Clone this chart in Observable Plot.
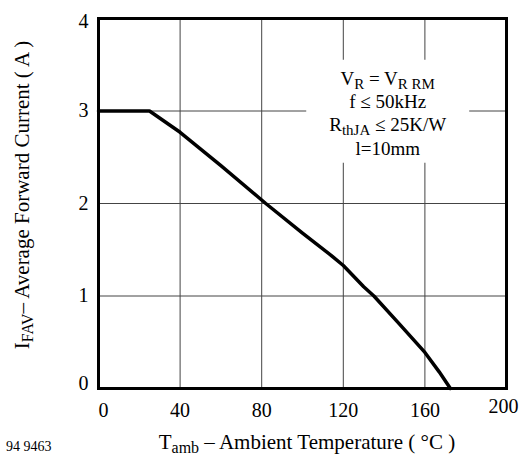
<!DOCTYPE html>
<html>
<head>
<meta charset="utf-8">
<script src="https://cdn.jsdelivr.net/npm/d3@7"></script>
<script src="https://cdn.jsdelivr.net/npm/@observablehq/plot@0.6"></script>
<style>
  html, body { margin: 0; padding: 0; background: white; overflow: hidden; }
  svg text { font-family: "Liberation Serif", "Times New Roman", serif !important; }
</style>
</head>
<body>
<script>
// Data
const temps    = [0, 25, 40, 60, 82, 100, 114, 120, 130, 135, 147, 160, 167, 172.5];
const currents = [3, 3, 2.77, 2.41, 2, 1.68, 1.44, 1.33, 1.1, 1.0, 0.71, 0.39, 0.18, 0];
const xTicks = [0, 40, 80, 120, 160, 200];
const yTicks = [0, 1, 2, 3, 4];
const noteAt = [142, 2.9];

const data = temps.map((t, i) => ({t, i: currents[i]}));

const plot = Plot.plot({
  width: 522,
  height: 456,
  marginLeft: 98,
  marginRight: 16,
  marginTop: 18,
  marginBottom: 68,
  x: {domain: [0, 200]},
  y: {domain: [0, 4]},
  style: {fontSize: "20px", color: "black", background: "white"},
  marks: [
    Plot.gridX({ticks: xTicks, stroke: "#444", strokeOpacity: 1, strokeWidth: 1}),
    Plot.gridY({ticks: yTicks, stroke: "#444", strokeOpacity: 1, strokeWidth: 1}),
    Plot.line(data, {x: "t", y: "i", stroke: "black", strokeWidth: 3.5}),
    Plot.frame({stroke: "black", strokeWidth: 3}),
    Plot.axisX({ticks: xTicks, tickSize: 0, tickPadding: 14, label: null, fontSize: 20, tickFormat: d => String(d)}),
    Plot.axisY({ticks: yTicks, tickSize: 0, tickPadding: 10, label: null, fontSize: 20, tickFormat: d => String(d)})
  ]
});
document.body.appendChild(plot);

const svg = d3.select(plot);
const sx = plot.scale("x"), sy = plot.scale("y");

// nudge end tick labels as in the reference (relative to Plot's own placement)
function nudge(node, dx, dy) {
  const s = d3.select(node);
  const tr = s.attr("transform") || "";
  s.attr("transform", (tr + ` translate(${dx},${dy})`).trim());
}
const xl = svg.selectAll('g[aria-label="x-axis tick label"] text').nodes();
if (xl.length) {
  nudge(xl[0], 5, 0);
  nudge(xl[xl.length - 1], -3, -4);
}
const yl = svg.selectAll('g[aria-label="y-axis tick label"] text').nodes();
if (yl.length) {
  nudge(yl[0], 0, -5);
  nudge(yl[yl.length - 1], 0, 3);
}

function addRuns(textSel, runs, subSize) {
  let shifted = false;
  runs.forEach(([s, sub]) => {
    const ts = textSel.append("tspan").text(s);
    if (sub) {
      ts.attr("font-size", subSize);
      if (!shifted) { ts.attr("dy", 4); shifted = true; }
    } else if (shifted) { ts.attr("dy", -4); shifted = false; }
  });
}

// Annotation block
const cx = sx.apply(noteAt[0]), cy = sy.apply(noteAt[1]);
const noteLines = [
  [["V"], ["R", true], [" = V"], ["R RM", true]],
  [["f ≤ 50kHz"]],
  [["R"], ["thJA", true], [" ≤ 25K/W"]],
  [["l=10mm"]]
];
const g = svg.append("g").attr("font-size", 19).attr("text-anchor", "middle");
noteLines.forEach((runs, k) => {
  const t = g.append("text").attr("x", cx).attr("y", cy - 35 + k * 23.33);
  addRuns(t, runs, 15);
});
const bb = g.node().getBBox();
svg.insert("rect", () => g.node())
  .attr("x", bb.x - 23).attr("y", bb.y - 8)
  .attr("width", bb.width + 46).attr("height", bb.height + 12)
  .attr("fill", "white");

// X title
const xt = svg.append("text").attr("x", 307).attr("y", 449)
  .attr("font-size", 21).attr("text-anchor", "middle");
addRuns(xt, [["T"], ["amb", true], [" – Ambient Temperature ( °C )"]], 16);

// Y title
const yt = svg.append("text").attr("transform", "translate(29,195) rotate(-90)")
  .attr("font-size", 21).attr("text-anchor", "middle");
addRuns(yt, [["I"], ["FAV", true], ["– Average Forward Current ( A )"]], 16);

// Figure id
svg.append("text").attr("x", 6).attr("y", 451).attr("text-anchor", "start")
  .attr("font-size", 14).text("94 9463");
</script>
</body>
</html>
